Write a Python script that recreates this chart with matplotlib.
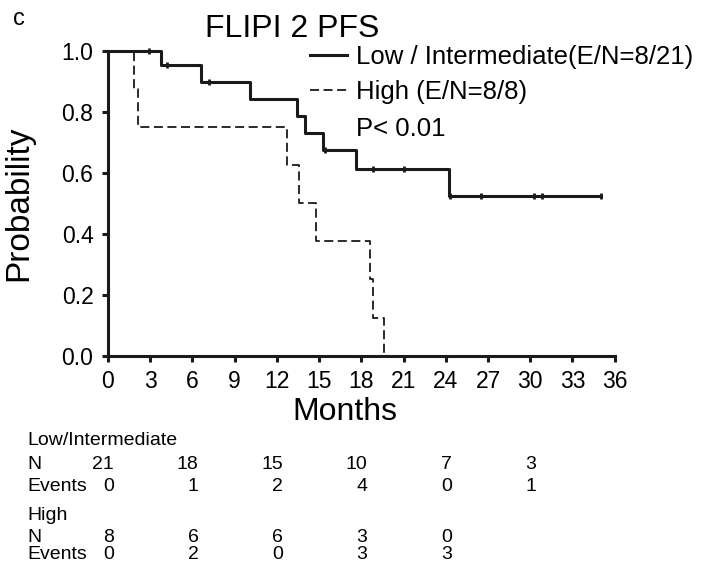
import numpy as np
import matplotlib
matplotlib.use("Agg")
import matplotlib.pyplot as plt
import matplotlib.transforms as mtransforms

plt.rcParams["font.family"] = ["Liberation Sans", "DejaVu Sans"]

# ---------------- data ----------------
low_times = [0, 3.8, 6.6, 10.1, 13.45, 14.0, 15.3, 17.6, 24.2, 35.0]
low_surv = [1.0, 0.952, 0.897, 0.841, 0.785, 0.729, 0.673, 0.612, 0.524, 0.524]
low_censor = [2.9, 4.2, 7.2, 15.45, 18.8, 21.0, 24.3, 26.5, 30.3, 30.8, 35.0]

high_times = [0, 1.85, 2.13, 12.75, 13.55, 14.76, 18.65, 18.83, 19.6]
high_surv = [1.0, 0.875, 0.75, 0.625, 0.5, 0.375, 0.25, 0.125, 0.0]

risk_months = [0, 6, 12, 18, 24, 30]
low_n = [21, 18, 15, 10, 7, 3]
low_events = [0, 1, 2, 4, 0, 1]
high_n = [8, 6, 6, 3, 0]
high_events = [0, 2, 0, 3, 3]

x_ticks = list(range(0, 37, 3))
y_ticks = [0.0, 0.2, 0.4, 0.6, 0.8, 1.0]


def step_value(times, surv, t):
    i = np.searchsorted(times, t, side="right") - 1
    return surv[i]


fig = plt.figure(figsize=(7.04, 5.69), dpi=100)
W, H = 704, 569
ax = fig.add_axes([108 / W, 1 - 355.7 / H, (614.7 - 108) / W, (355.7 - 50.7) / H])

lw = 2.2
l_high, = ax.plot(high_times, high_surv, drawstyle="steps-post", color="#1a1a1a",
                  lw=1.3, dashes=(5, 2.5), clip_on=False, zorder=2,
                  label="High (E/N=8/8)")
l_low, = ax.plot(low_times, low_surv, drawstyle="steps-post", color="#1a1a1a",
                 lw=lw, clip_on=False, zorder=3,
                 label="Low / Intermediate(E/N=8/21)")
cens_y = [step_value(low_times, low_surv, t) for t in low_censor]
ax.plot(low_censor, cens_y, ls="none", marker="|", ms=5, mew=2.0,
        color="#1a1a1a", clip_on=False, zorder=4)

ax.set_xlim(0, 36)
ax.set_ylim(0, 1)
ax.set_xticks(x_ticks)
ax.set_yticks(y_ticks)
ax.set_yticklabels([f"{v:.1f}" for v in y_ticks])
for s in ["top", "right"]:
    ax.spines[s].set_visible(False)
for s in ["left", "bottom"]:
    ax.spines[s].set_linewidth(lw)
    ax.spines[s].set_color("#1a1a1a")
ax.tick_params(width=lw, length=4.5, labelsize=16.5, color="#1a1a1a", pad=6)

ax.set_xlabel("Months", fontsize=23)
ax.xaxis.set_label_coords(0.468, -0.135)
ax.set_ylabel("Probability", fontsize=24)
ax.yaxis.set_label_coords(-0.145, 0.5)

fig.text(292 / W, 1 - 37 / H, "FLIPI 2 PFS", fontsize=23, ha="center", va="baseline")
fig.text(13 / W, 1 - 25 / H, "c", fontsize=17, ha="left", va="baseline")

leg = ax.legend(handles=[l_low, l_high], loc="upper left",
                bbox_to_anchor=(310 / W, 1 - 45 / H), bbox_transform=fig.transFigure,
                frameon=False, fontsize=18.5, handlelength=1.45, handletextpad=0.35,
                borderpad=0, borderaxespad=0, labelspacing=0.42)
fig.text(356 / W, 1 - 136 / H, "P< 0.01", fontsize=18.5, ha="left", va="baseline")

# ---------------- number at risk table ----------------
trans = mtransforms.blended_transform_factory(ax.transData, fig.transFigure)
off = 0.43  # right edge of numbers just right of the tick
tfs = 14
fig.text(27 / W, 1 - 445 / H, "Low/Intermediate", fontsize=tfs, va="baseline")
fig.text(27 / W, 1 - 469 / H, "N", fontsize=tfs, va="baseline")
fig.text(27 / W, 1 - 491 / H, "Events", fontsize=tfs, va="baseline")
fig.text(27 / W, 1 - 520 / H, "High", fontsize=tfs, va="baseline")
fig.text(27 / W, 1 - 542 / H, "N", fontsize=tfs, va="baseline")
fig.text(27 / W, 1 - 559 / H, "Events", fontsize=tfs, va="baseline")
for m, n, e in zip(risk_months, low_n, low_events):
    ax.text(m + off, 1 - 469 / H, str(n), transform=trans, fontsize=tfs, ha="right", va="baseline")
    ax.text(m + off, 1 - 491 / H, str(e), transform=trans, fontsize=tfs, ha="right", va="baseline")
for m, n, e in zip(risk_months, high_n, high_events):
    ax.text(m + off, 1 - 542 / H, str(n), transform=trans, fontsize=tfs, ha="right", va="baseline")
    ax.text(m + off, 1 - 559 / H, str(e), transform=trans, fontsize=tfs, ha="right", va="baseline")

fig.savefig("out.png", dpi=100)
